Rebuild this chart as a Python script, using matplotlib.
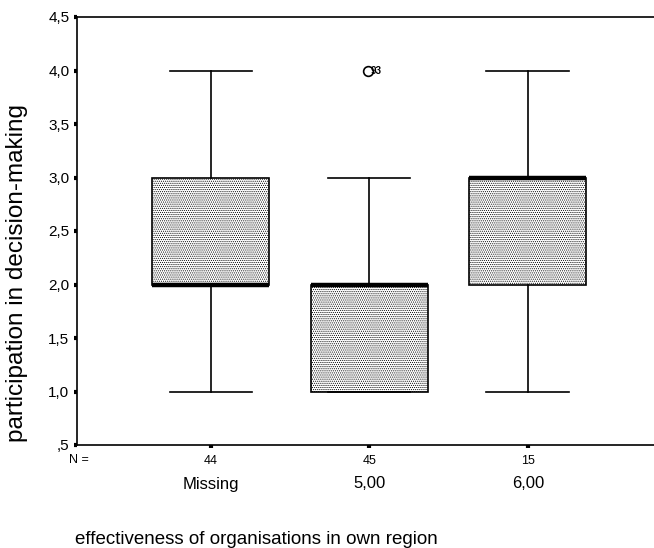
import numpy as np
import matplotlib.pyplot as plt

plt.rcParams['font.family'] = ['Liberation Sans', 'DejaVu Sans']
plt.rcParams['hatch.linewidth'] = 0.5

# five-number summaries per group
groups = ['Missing', '5,00', '6,00']
counts = [44, 45, 15]
whislo = [1.0, 1.0, 1.0]
q1 = [2.0, 1.0, 2.0]
med = [2.0, 2.0, 3.0]
q3 = [3.0, 2.0, 3.0]
whishi = [4.0, 3.0, 4.0]
outliers = [[], [4.0], []]
outlier_ids = [[], ['93'], []]

yticks = [0.5, 1.0, 1.5, 2.0, 2.5, 3.0, 3.5, 4.0, 4.5]
ytick_labels = [',5', '1,0', '1,5', '2,0', '2,5', '3,0', '3,5', '4,0', '4,5']

stats = []
for i in range(len(groups)):
    stats.append(dict(whislo=whislo[i], q1=q1[i], med=med[i], q3=q3[i],
                      whishi=whishi[i], fliers=[]))

fig = plt.figure(figsize=(6.54, 5.48), dpi=100)
ax = fig.add_axes([77 / 654, 103 / 548, 590 / 654, 428 / 548])

pos = np.arange(1, len(groups) + 1)
bp = ax.bxp(stats, positions=pos, widths=0.74, patch_artist=True,
            showfliers=False,
            boxprops=dict(facecolor='white', edgecolor='black', linewidth=1.2,
                          hatch='........'),
            medianprops=dict(color='black', linewidth=3.2, solid_capstyle='butt'),
            whiskerprops=dict(color='black', linewidth=1.2),
            capprops=dict(color='black', linewidth=1.2),
            capwidths=0.52)

# outliers with case numbers
for i, vals in enumerate(outliers):
    for v, lab in zip(vals, outlier_ids[i]):
        ax.plot(pos[i] - 0.01, v, 'o', ms=7, mfc='white', mec='black', mew=1.2,
                zorder=5)
        ax.annotate(lab, (pos[i] - 0.01, v), xytext=(2, 0),
                    textcoords='offset points', ha='left', va='center',
                    fontsize=7, fontweight='bold', zorder=6)

ax.set_xlim(0.155, 3.88)
ax.set_ylim(0.5, 4.5)
ax.set_yticks(yticks)
ax.set_yticklabels(ytick_labels, fontsize=11)
ax.set_xticks(pos)
ax.set_xticklabels([str(c) for c in counts], fontsize=9)
ax.tick_params(axis='both', direction='out', length=2.5, width=3, pad=3)
ax.tick_params(axis='x', pad=5)
ax.spines['right'].set_visible(False)
for s in ['left', 'bottom', 'top']:
    ax.spines[s].set_linewidth(1.2)

fig.text(79 / 654, 1 - 460 / 548, 'N =', fontsize=9, ha='center', va='center')
for p, g in zip(pos, groups):
    xf = (77 + (p - 0.155) * 158.5) / 654
    fig.text(xf, 1 - 484 / 548, g, fontsize=12, ha='center', va='center')

fig.text(17 / 654, 1 - 273 / 548, 'participation in decision-making',
         fontsize=17.5, rotation=90, ha='center', va='center')
fig.text(75 / 654, 1 - 539 / 548, 'effectiveness of organisations in own region',
         fontsize=13.5, ha='left', va='center')

fig.savefig('out.png', dpi=100)
